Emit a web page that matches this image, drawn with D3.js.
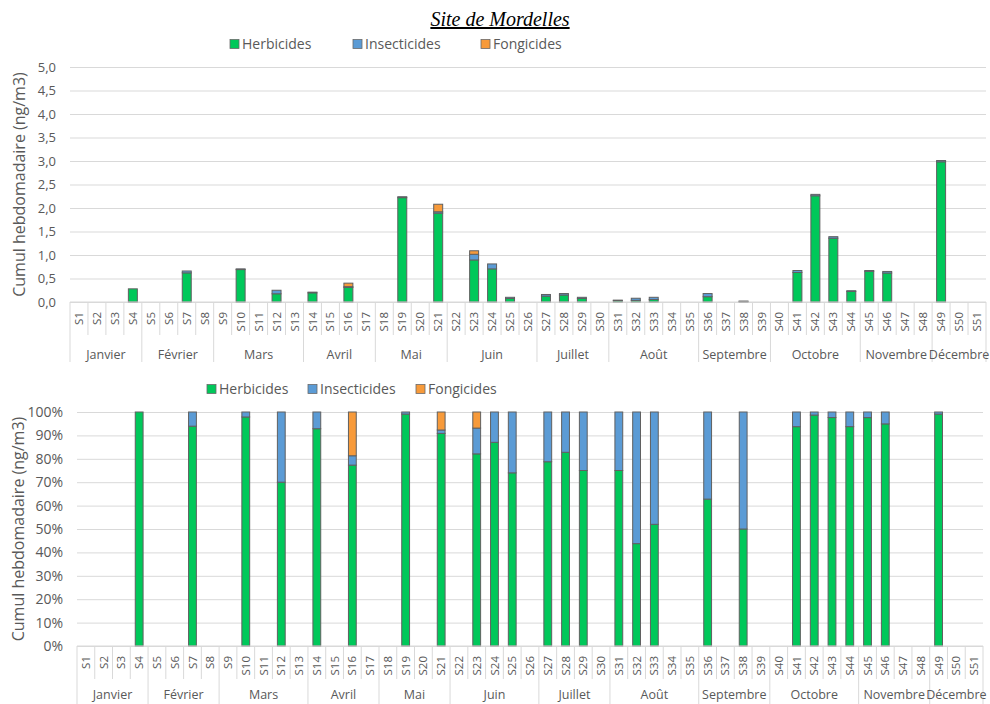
<!DOCTYPE html>
<html lang="fr">
<head>
<meta charset="UTF-8">
<title>Site de Mordelles</title>
<style>
  body { margin: 0; background: #fff; }
  svg { display: block; font-family: "Open Sans", sans-serif; }
  text { fill: #595959; }
</style>
</head>
<body>
<svg id="chart" width="990" height="704"></svg>
<script src="https://cdn.jsdelivr.net/npm/d3@7/dist/d3.min.js"></script>
<script>
// semaines et mois
const weeks = ['S1','S2','S3','S4','S5','S6','S7','S8','S9','S10','S11','S12','S13','S14','S15','S16','S17',
  'S18','S19','S20','S21','S22','S23','S24','S25','S26','S27','S28','S29','S30','S31','S32','S33','S34',
  'S35','S36','S37','S38','S39','S40','S41','S42','S43','S44','S45','S46','S47','S48','S49','S50','S51']
const monthNames = ['Janvier','Février','Mars','Avril','Mai','Juin','Juillet','Août','Septembre','Octobre','Novembre','Décembre']
const monthWeeks = [4, 4, 5, 4, 4, 5, 4, 5, 4, 5, 4, 3]

// cumul hebdomadaire (ng/m3)
const herbicides = [0, 0, 0, 0.28, 0, 0, 0.62, 0, 0, 0.69, 0, 0.175, 0, 0.195, 0, 0.31, 0,
  0, 2.22, 0, 1.89, 0, 0.895, 0.705, 0.074, 0, 0.126, 0.149, 0.075, 0, 0.03, 0.035, 0.052, 0,
  0, 0.113, 0, 0.01, 0, 0, 0.628, 2.26, 1.357, 0.225, 0.654, 0.617, 0, 0, 2.983, 0, 0]
const insecticides = [0, 0, 0, 0, 0, 0, 0.04, 0, 0, 0.015, 0, 0.075, 0, 0.015, 0, 0.016, 0,
  0, 0.02, 0, 0.03, 0, 0.12, 0.105, 0.026, 0, 0.034, 0.031, 0.025, 0, 0.01, 0.045, 0.048, 0,
  0, 0.067, 0, 0.01, 0, 0, 0.042, 0.03, 0.033, 0.015, 0.016, 0.033, 0, 0, 0.027, 0, 0]
const fongicides = [0, 0, 0, 0, 0, 0, 0, 0, 0, 0, 0, 0, 0, 0, 0, 0.075, 0,
  0, 0, 0, 0.16, 0, 0.075, 0, 0, 0, 0, 0, 0, 0, 0, 0, 0, 0,
  0, 0, 0, 0, 0, 0, 0, 0, 0, 0, 0, 0, 0, 0, 0, 0, 0]

const ticksTop = [0, 0.5, 1, 1.5, 2, 2.5, 3, 3.5, 4, 4.5, 5]
const ticksBottom = [0, 0.1, 0.2, 0.3, 0.4, 0.5, 0.6, 0.7, 0.8, 0.9, 1]

const keys = ['Herbicides', 'Insecticides', 'Fongicides']
const color = d3.scaleOrdinal().domain(keys).range(['#00C85A', '#5B9BD5', '#F79A3A'])

const rows = weeks.map((w, i) => ({
  week: w, Herbicides: herbicides[i], Insecticides: insecticides[i], Fongicides: fongicides[i]
}))

const svg = d3.select('#chart')

svg.append('text')
  .attr('x', 500).attr('y', 26)
  .attr('text-anchor', 'middle')
  .style('font-family', '"Liberation Serif", "Times New Roman", serif')
  .style('font-style', 'italic')
  .style('font-size', '20px')
  .style('text-decoration', 'underline')
  .style('fill', '#000')
  .text('Site de Mordelles')

function panel(cfg) {
  const g = svg.append('g')

  const xCell = d3.scaleBand().domain(weeks).range([cfg.left, cfg.right])
  const xBar = d3.scaleBand().domain(weeks).range([cfg.left, cfg.right])
    .paddingInner(cfg.pad).paddingOuter(cfg.pad / 2)
  const y = d3.scaleLinear().domain([0, cfg.max]).range([cfg.bottom, cfg.top])

  // legende
  const leg = g.selectAll('.leg').data(keys).enter().append('g')
    .attr('transform', (d, i) => `translate(${cfg.legendX[i]}, ${cfg.legendY})`)
  leg.append('rect')
    .attr('x', 0).attr('y', -4.5).attr('width', 9).attr('height', 9)
    .attr('fill', d => color(d)).attr('stroke', '#6a6a6a').attr('stroke-width', 0.8)
  leg.append('text')
    .attr('x', 12).attr('dy', '0.35em')
    .style('font-size', '14px')
    .text(d => d)

  // axe y + grille
  const yAxis = g.append('g')
    .attr('transform', `translate(${cfg.left}, 0)`)
    .call(d3.axisLeft(y).tickValues(cfg.ticks).tickSize(-(cfg.right - cfg.left))
      .tickPadding(cfg.tickPad).tickFormat(cfg.format))
  yAxis.select('.domain').remove()
  yAxis.selectAll('line').attr('stroke', '#d9d9d9')
  yAxis.selectAll('text').style('font-size', cfg.tickFont).style('fill', '#595959')
    .style('font-family', '"Open Sans", sans-serif')

  g.append('text')
    .attr('transform', `translate(${cfg.titleX}, ${(cfg.top + cfg.bottom) / 2}) rotate(-90)`)
    .attr('text-anchor', 'middle')
    .attr('dy', '0.35em')
    .style('font-size', '16px')
    .text('Cumul hebdomadaire (ng/m3)')

  // barres empilees
  const stack = d3.stack().keys(keys).offset(cfg.offset)
  const series = stack(rows)
  g.selectAll('.serie').data(series).enter().append('g')
    .attr('fill', d => color(d.key))
    .selectAll('rect')
    .data(d => d.filter(p => p[1] - p[0] > 0))
    .enter().append('rect')
    .attr('x', d => xBar(d.data.week))
    .attr('width', xBar.bandwidth())
    .attr('y', d => y(d[1]))
    .attr('height', d => y(d[0]) - y(d[1]))
    .attr('stroke', '#606060')
    .attr('stroke-width', 1)

  // axe des categories a deux niveaux
  const ax = g.append('g').attr('class', 'cat')
  ax.append('line')
    .attr('x1', cfg.left).attr('x2', cfg.right)
    .attr('y1', cfg.bottom).attr('y2', cfg.bottom)
    .attr('stroke', '#d9d9d9')

  const starts = []
  let k = 0
  monthWeeks.forEach(n => { starts.push(k); k += n })
  const monthStart = new Set(starts.map(i => weeks[i]))

  ax.selectAll('.sep').data(weeks).enter().append('line')
    .attr('x1', d => xCell(d)).attr('x2', d => xCell(d))
    .attr('y1', cfg.bottom)
    .attr('y2', d => monthStart.has(d) ? cfg.monthSep : cfg.weekSep)
    .attr('stroke', '#d9d9d9')
  ax.append('line')
    .attr('x1', cfg.right).attr('x2', cfg.right)
    .attr('y1', cfg.bottom).attr('y2', cfg.monthSep)
    .attr('stroke', '#d9d9d9')

  ax.selectAll('.wk').data(weeks).enter().append('text')
    .attr('transform', d => `translate(${xCell(d) + xCell.bandwidth() / 2}, ${cfg.bottom + 10}) rotate(-90)`)
    .attr('text-anchor', 'end')
    .attr('dy', '0.35em')
    .style('font-size', '11.5px')
    .text(d => d)

  ax.selectAll('.mo').data(monthNames).enter().append('text')
    .attr('x', (d, i) => {
      const a = xCell(weeks[starts[i]])
      const b = xCell(weeks[starts[i] + monthWeeks[i] - 1]) + xCell.bandwidth()
      return (a + b) / 2
    })
    .attr('y', cfg.monthY)
    .attr('text-anchor', 'middle')
    .style('font-size', '12.5px')
    .text(d => d)
}

const comma = d3.formatLocale({ decimal: ',', thousands: ' ', grouping: [3], currency: ['', '€'] })

panel({
  left: 70, right: 986, top: 67, bottom: 302, max: 5,
  ticks: ticksTop, format: comma.format('.1f'), tickFont: '13px', tickPad: 14,
  offset: d3.stackOffsetNone, pad: 0.5,
  legendX: [230, 353, 481], legendY: 44, titleX: 19,
  weekSep: 335, monthSep: 362, monthY: 359
})

panel({
  left: 77, right: 983, top: 412, bottom: 646, max: 1,
  ticks: ticksBottom, format: d3.format('.0%'), tickFont: '14px', tickPad: 14,
  offset: d3.stackOffsetExpand, pad: 0.56,
  legendX: [207, 308, 416], legendY: 389, titleX: 18,
  weekSep: 679, monthSep: 704, monthY: 699
})
</script>
</body>
</html>
